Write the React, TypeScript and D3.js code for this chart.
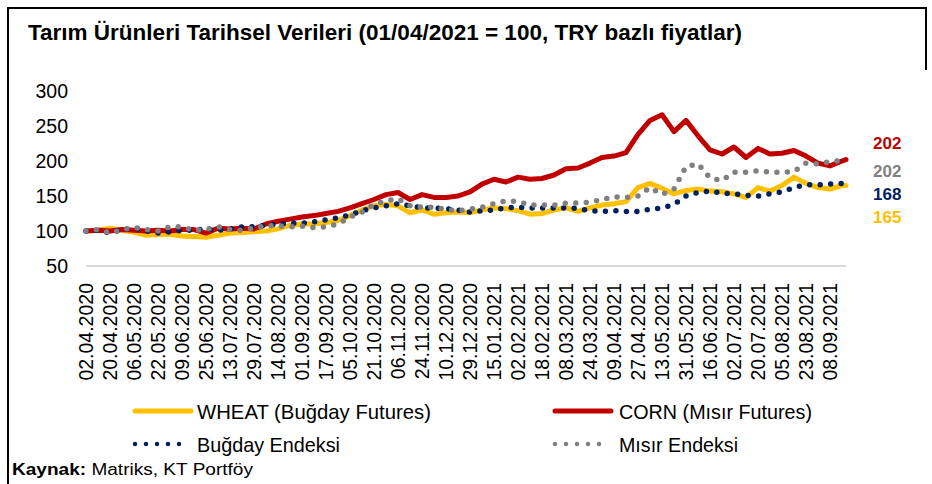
import React from "react";
import * as d3 from "d3";

// Sampled every 6 business days (index 0,6,12,...,378) plus the last day (index 380)
const STEP = 6;
const LAST_DAY = 380;

const tickLabels = [
  "02.04.2020", "20.04.2020", "06.05.2020", "22.05.2020", "09.06.2020", "25.06.2020",
  "13.07.2020", "29.07.2020", "14.08.2020", "01.09.2020", "17.09.2020", "05.10.2020",
  "21.10.2020", "06.11.2020", "24.11.2020", "10.12.2020", "29.12.2020", "15.01.2021",
  "02.02.2021", "18.02.2021", "08.03.2021", "24.03.2021", "09.04.2021", "27.04.2021",
  "13.05.2021", "31.05.2021", "16.06.2021", "02.07.2021", "20.07.2021", "05.08.2021",
  "23.08.2021", "08.09.2021",
];
const TICK_EVERY = 12;

const wheatFutures = [
  100, 101, 104, 101, 98, 94, 95, 95, 93, 92, 91, 94, 97, 98, 99, 100,
  103, 108, 110, 110, 112, 115, 122, 130, 136, 138, 136, 126, 130, 124, 126, 127,
  126, 130, 133, 132, 129, 124, 125, 130, 133, 128, 133, 137, 139, 142, 162, 168,
  161, 153, 158, 160, 157, 156, 153, 148, 162, 157, 165, 177, 168, 162, 160, 165, 165,
];
const cornFutures = [
  100, 101, 100, 102, 101, 100, 101, 100, 102, 102, 97, 104, 103, 104, 103, 110,
  114, 117, 120, 122, 125, 128, 133, 139, 145, 152, 155, 145, 152, 148, 148, 150,
  156, 167, 174, 170, 177, 174, 175, 180, 189, 190, 197, 205, 207, 212, 238, 258,
  266, 242, 258, 236, 216, 210, 220, 205, 218, 210, 211, 215, 207, 197, 193, 200, 202,
];
const wheatIndex = [
  100, 101, 97, 102, 104, 100, 97, 99, 101, 101, 103, 101, 103, 106, 106, 108,
  110, 111, 111, 113, 116, 119, 123, 129, 133, 136, 139, 136, 133, 133, 132, 130,
  127, 129, 130, 133, 134, 133, 133, 133, 133, 132, 129, 128, 129, 128, 128, 131,
  133, 138, 150, 155, 157, 154, 153, 151, 150, 153, 156, 162, 166, 166, 167, 168, 168,
];
const cornIndex = [
  100, 102, 97, 102, 105, 102, 100, 106, 106, 101, 102, 106, 102, 101, 104, 108,
  107, 106, 107, 105, 106, 110, 120, 127, 138, 143, 146, 136, 134, 134, 131, 129,
  131, 134, 139, 143, 142, 137, 137, 137, 140, 140, 141, 145, 149, 148, 150, 162,
  152, 160, 192, 196, 176, 172, 184, 184, 186, 184, 184, 185, 197, 196, 199, 201, 202,
];

const yTicks = [50, 100, 150, 200, 250, 300];

const seriesNames = ["WHEAT (Buğday Futures)", "CORN (Mısır Futures)", "Buğday Endeksi", "Mısır Endeksi"];
const endLabels = ["202", "202", "168", "165"];

const dayOf = (i: number) => (i * STEP > LAST_DAY ? LAST_DAY : i * STEP);

export default function App() {
  const W = 932;
  const H = 484;
  const x = d3.scaleLinear().domain([0, LAST_DAY]).range([86, 846]);
  const y = d3.scaleLinear().domain([50, 300]).range([266, 91]);

  const line = d3
    .line<number>()
    .x((_, i) => x(dayOf(i)))
    .y((v) => y(v))
    .curve(d3.curveLinear);

  const gold = "#FFC000";
  const red = "#C00000";
  const navy = "#002060";
  const grey = "#808080";

  const axisFont = "'Liberation Sans', Arial, sans-serif";
  const narrowFont = "'Liberation Sans Narrow', 'Arial Narrow', 'Liberation Sans', Arial, sans-serif";

  return (
    <svg
      width={W}
      height={H}
      style={{ position: "absolute", left: 0, top: 0, background: "#fff" }}
    >
      <rect x={0} y={0} width={W} height={H} fill="#fff" />
      {/* frame */}
      <line x1={8} y1={8} x2={8} y2={H} stroke="#000" strokeWidth={2} />
      <line x1={7} y1={8} x2={927} y2={8} stroke="#000" strokeWidth={2} />
      <line x1={926} y1={7} x2={926} y2={70} stroke="#000" strokeWidth={2} />

      {/* title */}
      <text
        x={28}
        y={40}
        fontFamily={narrowFont}
        fontWeight="bold"
        fontSize={22}
        textLength={714}
        lengthAdjust="spacingAndGlyphs"
        fill="#000"
      >
        Tarım Ürünleri Tarihsel Verileri (01/04/2021 = 100, TRY bazlı fiyatlar)
      </text>

      {/* y axis labels */}
      {yTicks.map((t) => (
        <text
          key={t}
          x={68}
          y={y(t)}
          dy="0.36em"
          textAnchor="end"
          fontFamily={axisFont}
          fontSize={19.5}
          fill="#000"
        >
          {t}
        </text>
      ))}

      {/* baseline */}
      <line x1={x(0)} x2={x(LAST_DAY)} y1={y(50)} y2={y(50)} stroke="#D9D9D9" strokeWidth={2} />

      {/* x axis labels */}
      {tickLabels.map((lab, j) => {
        const px = x(j * TICK_EVERY);
        return (
          <text
            key={lab}
            transform={`translate(${px},283) rotate(-90)`}
            dy="0.36em"
            textAnchor="end"
            fontFamily={axisFont}
            fontSize={19.5}
            fill="#000"
          >
            {lab}
          </text>
        );
      })}

      {/* series */}
      <path d={line(wheatFutures) || ""} fill="none" stroke={gold} strokeWidth={5} strokeLinejoin="round" strokeLinecap="round" />
      <path d={line(cornFutures) || ""} fill="none" stroke={red} strokeWidth={5} strokeLinejoin="round" strokeLinecap="round" />
      <path d={line(wheatIndex) || ""} fill="none" stroke={navy} strokeWidth={5.5} strokeDasharray="0 10.5" strokeLinecap="round" />
      <path d={line(cornIndex) || ""} fill="none" stroke={grey} strokeWidth={5.5} strokeDasharray="0 10.5" strokeLinecap="round" />

      {/* end labels */}
      {[
        { t: endLabels[0], c: red, yy: 143 },
        { t: endLabels[1], c: grey, yy: 171 },
        { t: endLabels[2], c: navy, yy: 194 },
        { t: endLabels[3], c: gold, yy: 217 },
      ].map((d, i) => (
        <text
          key={i}
          x={873}
          y={d.yy}
          dy="0.36em"
          fontFamily={axisFont}
          fontWeight="bold"
          fontSize={17}
          fill={d.c}
        >
          {d.t}
        </text>
      ))}

      {/* legend */}
      <line x1={135} x2={191} y1={411} y2={411} stroke={gold} strokeWidth={5} strokeLinecap="round" />
      <text x={197} y={411} dy="0.36em" fontFamily={narrowFont} fontSize={21} textLength={234} lengthAdjust="spacingAndGlyphs">
        {seriesNames[0]}
      </text>
      <line x1={555} x2={611} y1={411} y2={411} stroke={red} strokeWidth={5} strokeLinecap="round" />
      <text x={619} y={411} dy="0.36em" fontFamily={narrowFont} fontSize={21} textLength={193} lengthAdjust="spacingAndGlyphs">
        {seriesNames[1]}
      </text>
      <line x1={135} x2={180} y1={444} y2={444} stroke={navy} strokeWidth={4.5} strokeDasharray="0 11" strokeLinecap="round" />
      <text x={197} y={444} dy="0.36em" fontFamily={narrowFont} fontSize={21} textLength={143} lengthAdjust="spacingAndGlyphs">
        {seriesNames[2]}
      </text>
      <line x1={555} x2={600} y1={444} y2={444} stroke={grey} strokeWidth={4.5} strokeDasharray="0 11" strokeLinecap="round" />
      <text x={619} y={444} dy="0.36em" fontFamily={narrowFont} fontSize={21} textLength={119} lengthAdjust="spacingAndGlyphs">
        {seriesNames[3]}
      </text>

      {/* source */}
      <text x={12} y={469} dy="0.36em" fontFamily={narrowFont} fontSize={16} textLength={241} lengthAdjust="spacingAndGlyphs">
        <tspan fontWeight="bold">Kaynak:</tspan> Matriks, KT Portföy
      </text>
    </svg>
  );
}
